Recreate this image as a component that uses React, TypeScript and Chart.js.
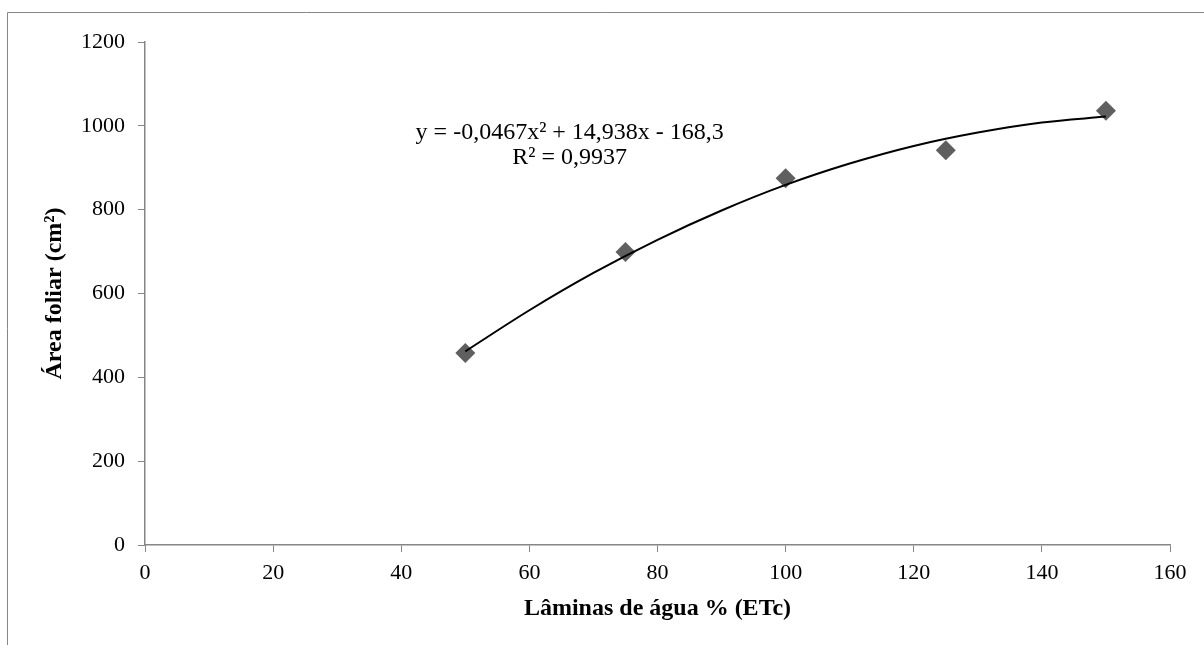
import React, { useEffect, useRef } from "react";
import { Chart, registerables } from "chart.js";

Chart.register(...registerables);

// Observed data (lâminas de água % ETc vs área foliar cm²)
const laminas = [50, 75, 100, 125, 150];
const areaFoliar = [458, 699, 875, 942, 1036];

// Trendline (polynomial fit) values
const trendX = [50, 60, 70, 80, 90, 100, 110, 120, 130, 140, 150];
const trendY = [462, 560, 649, 728, 798, 859, 910, 952, 984, 1008, 1022];

const xTicks = [0, 20, 40, 60, 80, 100, 120, 140, 160];
const yTicks = [0, 200, 400, 600, 800, 1000, 1200];

const equationLines = ["y = -0,0467x² + 14,938x - 168,3", "R² = 0,9937"];
const equationAnchor = { x: 66.3, y: 984 };

const xTitle = "Lâminas de água % (ETc)";
const yTitle = "Área foliar (cm²)";

const FONT = "'Liberation Serif', 'Times New Roman', serif";
const AXIS_GRAY = "#868686";

const frame = {
  id: "outerFrame",
  beforeDraw(chart: any) {
    const { ctx } = chart;
    ctx.save();
    ctx.fillStyle = "#ffffff";
    ctx.fillRect(0, 0, chart.width, chart.height);
    ctx.strokeStyle = AXIS_GRAY;
    ctx.lineWidth = 1;
    ctx.beginPath();
    ctx.moveTo(7.5, chart.height);
    ctx.lineTo(7.5, 12.5);
    ctx.lineTo(chart.width, 12.5);
    ctx.stroke();
    ctx.restore();
  },
};

const equationLabel = {
  id: "equationLabel",
  afterDatasetsDraw(chart: any) {
    const { ctx, scales } = chart;
    const px = scales.x.getPixelForValue(equationAnchor.x);
    const py = scales.y.getPixelForValue(equationAnchor.y);
    ctx.save();
    ctx.font = `24px ${FONT}`;
    ctx.fillStyle = "#000";
    ctx.textAlign = "center";
    ctx.textBaseline = "middle";
    equationLines.forEach((line, i) => ctx.fillText(line, px, py + i * 25));
    ctx.restore();
  },
};

export default function App() {
  const ref = useRef<HTMLCanvasElement | null>(null);
  useEffect(() => {
    if (!ref.current) return;
    const chart = new Chart(ref.current, {
      type: "scatter",
      data: {
        datasets: [
          {
            label: "Trend",
            data: trendX.map((x, i) => ({ x, y: trendY[i] })),
            showLine: true,
            borderColor: "#000",
            borderWidth: 2,
            pointRadius: 0,
            tension: 0.4,
            cubicInterpolationMode: "monotone",
            order: 0,
          } as any,
          {
            label: "Área foliar",
            data: laminas.map((x, i) => ({ x, y: areaFoliar[i] })),
            pointStyle: "rectRot",
            pointRadius: 10,
            backgroundColor: "#5f5f5f",
            borderColor: "#5f5f5f",
            borderWidth: 0,
            order: 1,
          },
        ],
      },
      options: {
        animation: false,
        responsive: false,
        maintainAspectRatio: false,
        layout: { padding: { left: 0, right: 34, top: 42, bottom: 0 } },
        plugins: { legend: { display: false }, tooltip: { enabled: false } },
        scales: {
          x: {
            type: "linear",
            min: 0,
            max: 160,
            afterBuildTicks: (s: any) => {
              s.ticks = xTicks.map((v) => ({ value: v }));
            },
            afterFit: (s: any) => {
              s.height = 100;
            },
            ticks: {
              font: { family: FONT, size: 22 },
              color: "#000",
              padding: 8,
              maxRotation: 0,
              callback: (v: any) => String(v),
            },
            grid: {
              drawOnChartArea: false,
              drawTicks: true,
              tickLength: 7,
              color: AXIS_GRAY,
            },
            border: { color: AXIS_GRAY, width: 1.5 },
            title: {
              display: true,
              text: xTitle,
              color: "#000",
              font: { family: FONT, size: 24, weight: "bold" },
              padding: { top: 0, bottom: 22 },
            },
          },
          y: {
            type: "linear",
            min: 0,
            max: 1200,
            afterBuildTicks: (s: any) => {
              s.ticks = yTicks.map((v) => ({ value: v }));
            },
            afterFit: (s: any) => {
              s.width = 145;
            },
            ticks: {
              font: { family: FONT, size: 22 },
              color: "#000",
              padding: 13,
              callback: (v: any) => String(v),
            },
            grid: {
              drawOnChartArea: false,
              drawTicks: true,
              tickLength: 7,
              color: AXIS_GRAY,
            },
            border: { color: AXIS_GRAY, width: 1.5 },
            title: {
              display: true,
              text: yTitle,
              color: "#000",
              font: { family: FONT, size: 24, weight: "bold" },
              padding: { top: 40, bottom: 0 },
            },
          },
        },
      },
      plugins: [frame, equationLabel],
    });
    return () => chart.destroy();
  }, []);
  return (
    <div style={{ position: "fixed", left: 0, top: 0, width: 1204, height: 645 }}>
      <canvas ref={ref} width={1204} height={645} style={{ display: "block" }} />
    </div>
  );
}
